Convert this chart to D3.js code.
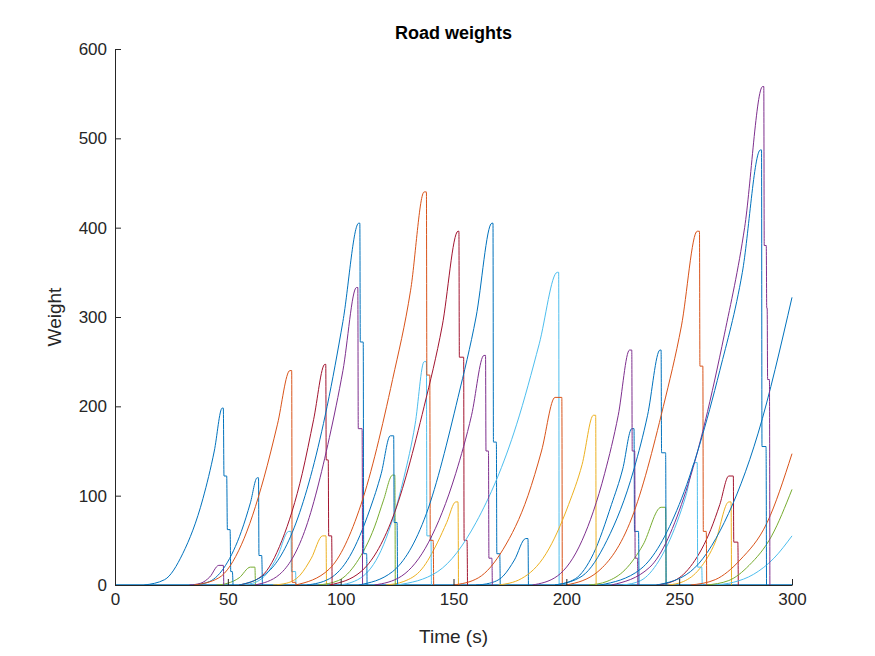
<!DOCTYPE html>
<html><head><meta charset="utf-8">
<script src="https://cdn.jsdelivr.net/npm/d3@7"></script>
<style>body{margin:0;background:#fff}text{font-family:"Liberation Sans",Arial,sans-serif}</style>
</head><body><svg id="chart"></svg>
<script>
var xTicks = [0, 50, 100, 150, 200, 250, 300];
var yTicks = [0, 100, 200, 300, 400, 500, 600];
var blue = "#0072BD", orange = "#D95319", yellow = "#EDB120", purple = "#7E2F8E",
    green = "#77AC30", lblue = "#4DBEEE", red = "#A2142F";

// each road: colour + [time, weight] points
var road1 = [[13,0],[22,6],[30,35],[39,97],[44,150],[47.5,198],[48,198],[48.3,122],[49.5,122],[49.8,62],[51,62],[51.3,15],[52,15],[52.3,0]];
var road2 = [[35,0],[42,4],[49,22],[56,60],[60,92],[63,120],[63.6,120],[63.8,33],[65,33],[65.3,0]];
var road3 = [[35,0],[46,8],[56,45],[66,120],[72,180],[77.5,240],[78.3,240],[78.5,3],[80,3],[80.2,0]];
var road4 = [[55,0],[65,10],[74,50],[83,125],[88,185],[93,247],[93.4,247],[93.6,140],[94.5,140],[94.7,55],[96,55],[96.2,0]];
var road5 = [[55,0],[68,15],[81,75],[94,200],[101,295],[108,405],[108.5,405],[108.7,272],[110,272],[110.2,35],[111.5,35],[111.7,0]];
var road6 = [[62,0],[73,12],[84,60],[95,165],[101,240],[107,333],[107.6,333],[107.8,175],[109.5,175],[109.7,0]];
var road7 = [[80,0],[95,18],[109,90],[123,230],[131,330],[137,440],[138,440],[138.2,235],[139.5,235],[139.7,50],[141,50],[141.2,0]];
var road8 = [[95,0],[109,15],[123,75],[137,200],[145,290],[152,396],[152.4,396],[152.6,255],[154.5,255],[154.7,50],[156,50],[156.2,0]];
var road9 = [[108,0],[123,15],[138,80],[152,210],[160,300],[167,405],[167.5,405],[167.7,160],[169,160],[169.2,35],[170.5,35],[170.7,0]];
var road10 = [[125,0],[143,15],[160,70],[178,180],[188,270],[196,350],[196.6,350],[196.8,0]];
var road11 = [[115,0],[127,10],[139,48],[151,125],[158,190],[163.5,257],[164.2,257],[164.4,150],[165.5,150],[165.7,30],[167,30],[167.2,0]];
var road12 = [[150,0],[161,8],[172,40],[183,100],[189,150],[195,210],[198,210],[198.2,0]];
var road13 = [[170,0],[180,7],[191,35],[201,90],[207,135],[212,190],[213,190],[213.2,0]];
var road14 = [[185,0],[196,10],[207,50],[217,125],[223,190],[228,263],[229,263],[229.2,150],[230.3,150],[230.5,30],[231.5,30],[231.7,0]];
var road15 = [[195,0],[207,10],[218,50],[230,130],[236,190],[241.5,263],[242,263],[242.2,148],[244,148],[244.2,0]];
var road16 = [[200,0],[214,15],[229,75],[243,200],[251,290],[258,396],[259,396],[259.2,245],[260.5,245],[260.7,60],[262,60],[262.2,0]];
var road17 = [[220,0],[237,20],[253,105],[270,280],[279,400],[287,558],[287.5,558],[287.7,380],[288.6,380],[288.8,310],[289,310],[289.2,230],[290,230],[290.2,0]];
var road18 = [[215,0],[233,18],[250,90],[268,240],[278,350],[286,487],[286.5,487],[286.7,155],[288.5,155],[288.7,0]];
var road19 = [[240,0],[255,15],[270,70],[285,170],[300,322]];
var road20 = [[255,0],[266,6],[277,28],[289,70],[300,147]];
var road21 = [[262,0],[272,5],[281,22],[291,55],[300,107]];
var road22 = [[265,0],[274,3],[283,12],[292,30],[300,55]];
var road23 = [[100,0],[110,10],[119,45],[128,120],[133,180],[137,250],[138,250],[138.2,55],[140,55],[140.2,0]];
var road24 = [[85,0],[95,7],[104,32],[113,85],[118,125],[122,167],[123.5,167],[123.7,70],[125,70],[125.2,0]];
var road25 = [[90,0],[99,5],[107,25],[115,65],[119,95],[123,123],[124,123],[124.2,0]];
var road26 = [[120,0],[128,4],[136,18],[143,48],[147,70],[151,93],[152,93],[152.2,0]];
var road27 = [[70,0],[76,2],[82,11],[87,30],[92,55],[93.5,55],[93.7,0]];
var road28 = [[55,0],[61,2],[67,12],[72,32],[77,60],[78,60],[78.2,15],[80,15],[80.2,0]];
var road29 = [[160,0],[166,2],[172,10],[177,28],[182,52],[183,52],[183.2,0]];
var road30 = [[33,0],[38,2],[42,9],[46,22],[48,22],[48.2,0]];
var road31 = [[45,0],[50,2],[55,8],[60,20],[62,20],[62.2,0]];
var road32 = [[195,0],[204,7],[212,35],[220,90],[225,130],[229,175],[230,175],[230.2,60],[232,60],[232.2,0]];
var road33 = [[225,0],[233,5],[241,27],[249,70],[253,100],[257,137],[258,137],[258.2,20],[260,20],[260.2,0]];
var road34 = [[240,0],[248,5],[256,24],[264,62],[268,90],[272,122],[274,122],[274.2,48],[276,48],[276.2,0]];
var road35 = [[245,0],[252,4],[259,18],[266,48],[272,93],[273,93],[273.2,0]];
var road36 = [[210,0],[218,4],[226,17],[234,45],[242,87],[244,87],[244.2,0]];

var roads = [
  [green, road36], [yellow, road35], [red, road34], [lblue, road33], [blue, road32],
  [green, road31], [purple, road30], [blue, road29], [lblue, road28], [yellow, road27],
  [yellow, road26], [green, road25], [blue, road24], [lblue, road23],
  [lblue, road22], [green, road21], [orange, road20], [blue, road19],
  [blue, road1], [blue, road2], [orange, road3], [red, road4], [blue, road5], [purple, road6],
  [orange, road7], [red, road8], [blue, road9], [lblue, road10], [purple, road11],
  [orange, road12], [yellow, road13], [purple, road14], [blue, road15], [orange, road16],
  [purple, road17], [blue, road18]
];

var margin = {top: 49, right: 83, bottom: 71, left: 115},
    width = 875 - margin.left - margin.right,
    height = 656 - margin.top - margin.bottom;

var svg = d3.select("svg#chart").attr("width", 875).attr("height", 656);
var g = svg.append("g").attr("transform", "translate(" + margin.left + "," + margin.top + ")");

var x = d3.scaleLinear().domain([0, 300]).range([0, width]);
var y = d3.scaleLinear().domain([0, 600]).range([height, 0]);

var line = d3.line()
    .x(function(d) { return x(d[0]); })
    .y(function(d) { return y(d[1]); })
    .curve(d3.curveMonotoneX);

// flat zero baseline shared by all roads
g.append("line").attr("x1", 0).attr("x2", width).attr("y1", y(0)).attr("y2", y(0))
  .attr("stroke", blue).attr("stroke-width", 1.5);

g.selectAll(".road").data(roads).enter().append("path")
  .attr("class", "road")
  .attr("fill", "none")
  .attr("stroke", function(d) { return d[0]; })
  .attr("stroke-width", 1)
  .attr("d", function(d) { return line(d[1]); });

var xAxis = g.append("g").attr("transform", "translate(0," + height + ")")
  .call(d3.axisBottom(x).tickValues(xTicks).tickSizeInner(-6).tickSizeOuter(0).tickPadding(8));
var yAxis = g.append("g")
  .call(d3.axisLeft(y).tickValues(yTicks).tickSizeInner(-6).tickSizeOuter(0).tickPadding(8));
[xAxis, yAxis].forEach(function(a) {
  a.selectAll("path,line").attr("stroke", "#262626");
  a.selectAll("text").attr("fill", "#262626").style("font-size", "17px");
});

g.append("text").attr("x", width / 2).attr("y", -10).attr("text-anchor", "middle")
  .style("font-size", "18px").style("font-weight", "bold").text("Road weights");
g.append("text").attr("x", width / 2).attr("y", height + 58).attr("text-anchor", "middle")
  .attr("fill", "#262626").style("font-size", "19px").text("Time (s)");
g.append("text").attr("transform", "translate(-54," + height / 2 + ") rotate(-90)")
  .attr("text-anchor", "middle").attr("fill", "#262626").style("font-size", "19px").text("Weight");
</script></body></html>
